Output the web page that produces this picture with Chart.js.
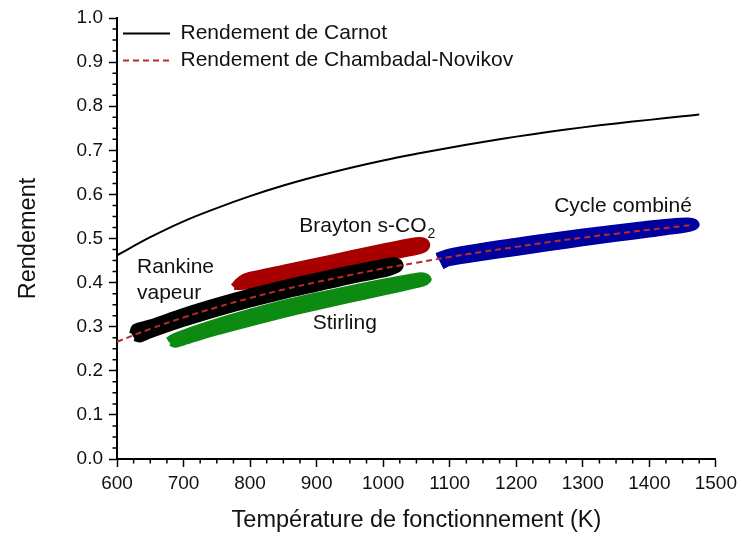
<!DOCTYPE html>
<html>
<head>
<meta charset="utf-8">
<script src="https://cdn.jsdelivr.net/npm/chart.js@4.4.1/dist/chart.umd.min.js"></script>
<style>
html,body{margin:0;padding:0;background:#fff;}
#wrap{width:742px;height:541px;}
</style>
</head>
<body>
<div id="wrap"><canvas id="c" width="742" height="541"></canvas></div>
<script>
// ---------- DATA ----------
const seriesNames = ['Rendement de Carnot', 'Rendement de Chambadal-Novikov'];

const carnotT   = [600, 650, 700, 750, 800, 850, 900, 950, 1000, 1050, 1100, 1150, 1200, 1250, 1300, 1350, 1400, 1450, 1475];
const carnotEff = [0.462, 0.503, 0.539, 0.569, 0.596, 0.620, 0.641, 0.660, 0.677, 0.692, 0.706, 0.719, 0.731, 0.742, 0.752, 0.761, 0.769, 0.777, 0.781];

const cnT   = [600, 650, 700, 750, 800, 850, 900, 950, 1000, 1050, 1100, 1150, 1200, 1250, 1300, 1350, 1400, 1450, 1460];
const cnEff = [0.266, 0.295, 0.321, 0.344, 0.365, 0.384, 0.401, 0.417, 0.432, 0.445, 0.458, 0.470, 0.481, 0.492, 0.502, 0.511, 0.520, 0.528, 0.530];

// Outlines of the technology zones (upper edge left->right, then lower edge right->left)
const rankineT   = [622, 626, 650, 700, 750, 800, 850, 900, 950, 1000, 1015, 1024, 1027, 1022, 1010, 1000, 950, 900, 850, 800, 750, 700, 650, 635, 626];
const rankineEff = [0.284, 0.300, 0.311, 0.337, 0.360, 0.381, 0.400, 0.417, 0.433, 0.448, 0.452, 0.448, 0.438, 0.428, 0.421, 0.417, 0.402, 0.385, 0.368, 0.349, 0.328, 0.305, 0.279, 0.270, 0.273];

const braytonT   = [774, 782, 790, 800, 850, 900, 950, 1000, 1040, 1055, 1064, 1067, 1062, 1050, 1000, 950, 900, 850, 800, 785, 776];
const braytonEff = [0.392, 0.405, 0.414, 0.419, 0.435, 0.451, 0.467, 0.483, 0.495, 0.498, 0.494, 0.485, 0.474, 0.468, 0.454, 0.439, 0.423, 0.406, 0.391, 0.389, 0.389];

const stirlingT   = [676, 685, 700, 750, 800, 850, 900, 950, 1000, 1040, 1058, 1066, 1069, 1062, 1050, 1000, 950, 900, 850, 800, 750, 700, 688, 680];
const stirlingEff = [0.270, 0.279, 0.288, 0.313, 0.335, 0.355, 0.372, 0.388, 0.403, 0.414, 0.418, 0.414, 0.407, 0.398, 0.393, 0.376, 0.360, 0.343, 0.325, 0.306, 0.286, 0.263, 0.258, 0.262];

const combinedT   = [1080, 1100, 1150, 1200, 1250, 1300, 1350, 1400, 1440, 1458, 1468, 1472, 1466, 1455, 1400, 1350, 1300, 1250, 1200, 1150, 1100, 1089];
const combinedEff = [0.462, 0.472, 0.485, 0.496, 0.507, 0.517, 0.526, 0.535, 0.541, 0.542, 0.539, 0.531, 0.523, 0.519, 0.508, 0.498, 0.488, 0.477, 0.466, 0.455, 0.443, 0.436];

const zoneNames = ['Rankine vapeur', 'Brayton s-CO2', 'Stirling', 'Cycle combiné'];
const xTickRange = [600, 1500];
const yTickRange = [0, 1];

// ---------- helpers ----------
const FONT = '"Liberation Sans", Arial, Helvetica, sans-serif';
const pts = (xs, ys) => xs.map((v, i) => ({x: v, y: ys[i]}));

// annotation placement (data units)
const notes = [
  {text: 'Rankine', x: 630, y: 0.422},
  {text: 'vapeur', x: 630, y: 0.363},
  {text: 'Brayton s-CO', sub: '2', x: 874, y: 0.515},
  {text: 'Stirling', x: 894, y: 0.295},
  {text: 'Cycle combiné', x: 1257, y: 0.560}
];

const extras = {
  id: 'extras',
  afterDraw(chart) {
    const {ctx, chartArea, scales} = chart;
    const xs = scales.x, ys = scales.y;
    ctx.save();
    // minor ticks
    ctx.strokeStyle = '#000';
    ctx.lineWidth = 1.5;
    ctx.beginPath();
    for (let k = 0; k <= 36; k++) {
      if (k % 4 === 0) continue;
      const v = xTickRange[0] + k * 25;
      const px = xs.getPixelForValue(v);
      ctx.moveTo(px, chartArea.bottom);
      ctx.lineTo(px, chartArea.bottom + 4.5);
    }
    for (let k = 0; k <= 40; k++) {
      if (k % 4 === 0) continue;
      const v = yTickRange[0] + k * 0.025;
      const py = ys.getPixelForValue(v);
      ctx.moveTo(chartArea.left, py);
      ctx.lineTo(chartArea.left - 4.5, py);
    }
    ctx.stroke();
    // annotations
    ctx.fillStyle = '#111';
    ctx.textBaseline = 'alphabetic';
    ctx.textAlign = 'left';
    for (const n of notes) {
      ctx.font = '21px ' + FONT;
      const px = xs.getPixelForValue(n.x);
      const py = ys.getPixelForValue(n.y);
      ctx.fillText(n.text, px, py);
      if (n.sub) {
        const w = ctx.measureText(n.text).width;
        ctx.font = '14px ' + FONT;
        ctx.fillText(n.sub, px + w + 1, py + 6);
      }
    }
    ctx.restore();
  }
};

const zoneStyle = (color) => ({
  showLine: true, fill: 'shape', backgroundColor: color, borderColor: color,
  borderWidth: 5, borderJoinStyle: 'round', pointRadius: 0, tension: 0.3
});

new Chart(document.getElementById('c'), {
  type: 'scatter',
  data: {
    datasets: [
      {label: seriesNames[0], data: pts(carnotT, carnotEff), showLine: true, borderColor: '#000', backgroundColor: '#000',
       borderWidth: 2, pointRadius: 0, tension: 0.4, fill: false},
      {label: seriesNames[1], data: pts(cnT, cnEff), showLine: true, borderColor: '#bb2a2a', backgroundColor: '#bb2a2a',
       borderWidth: 2, borderDash: [6, 4], pointRadius: 0, tension: 0.4, fill: false},
      Object.assign({label: zoneNames[0], data: pts(rankineT, rankineEff)}, zoneStyle('#000000')),
      Object.assign({label: zoneNames[1], data: pts(braytonT, braytonEff)}, zoneStyle('#a80000')),
      Object.assign({label: zoneNames[2], data: pts(stirlingT, stirlingEff)}, zoneStyle('#0d8a12')),
      Object.assign({label: zoneNames[3], data: pts(combinedT, combinedEff)}, zoneStyle('#00009e'))
    ]
  },
  options: {
    responsive: false,
    animation: false,
    layout: {padding: {left: 0, right: 25, top: 18, bottom: 0}},
    plugins: {
      tooltip: {enabled: false},
      legend: {
        position: 'chartArea',
        align: 'start',
        title: {display: true, text: '', font: {size: 10}, padding: {top: 5, bottom: 0}},
        labels: {
          generateLabels: (chart) => {
            const items = Chart.defaults.plugins.legend.labels.generateLabels(chart);
            return items.filter((it) => it.datasetIndex < 2).map((it) => {
              const ds = chart.data.datasets[it.datasetIndex];
              it.lineDash = ds.borderDash || [];
              it.lineWidth = ds.borderWidth;
              it.strokeStyle = ds.borderColor;
              return it;
            });
          },
          usePointStyle: true,
          pointStyle: 'line',
          pointStyleWidth: 47,
          padding: 6,
          color: '#111',
          font: {family: FONT, size: 21}
        }
      }
    },
    scales: {
      x: {
        type: 'linear', position: 'bottom',
        min: xTickRange[0], max: xTickRange[1],
        afterFit: (s) => { s.height = 82; },
        border: {display: true, color: '#000', width: 2},
        grid: {drawOnChartArea: false, drawTicks: true, tickLength: 8, tickWidth: 1.5, tickColor: '#000'},
        ticks: {stepSize: 100, color: '#111', padding: 5, maxRotation: 0, font: {family: FONT, size: 19},
                callback: (v) => String(v)},
        title: {display: true, text: 'Température de fonctionnement (K)', color: '#111',
                font: {family: FONT, size: 23.5}, padding: {top: 0, bottom: 6}}
      },
      y: {
        type: 'linear', position: 'left',
        min: yTickRange[0], max: yTickRange[1],
        afterFit: (s) => { s.width = 117; },
        border: {display: true, color: '#000', width: 2},
        grid: {drawOnChartArea: false, drawTicks: true, tickLength: 8, tickWidth: 1.5, tickColor: '#000'},
        ticks: {stepSize: 0.1, color: '#111', padding: 6, font: {family: FONT, size: 19},
                callback: (v) => Number(v).toFixed(1)},
        title: {display: true, text: 'Rendement', color: '#111',
                font: {family: FONT, size: 23.5}, padding: {top: 14, bottom: 0}}
      }
    }
  },
  plugins: [extras]
});
</script>
</body>
</html>
